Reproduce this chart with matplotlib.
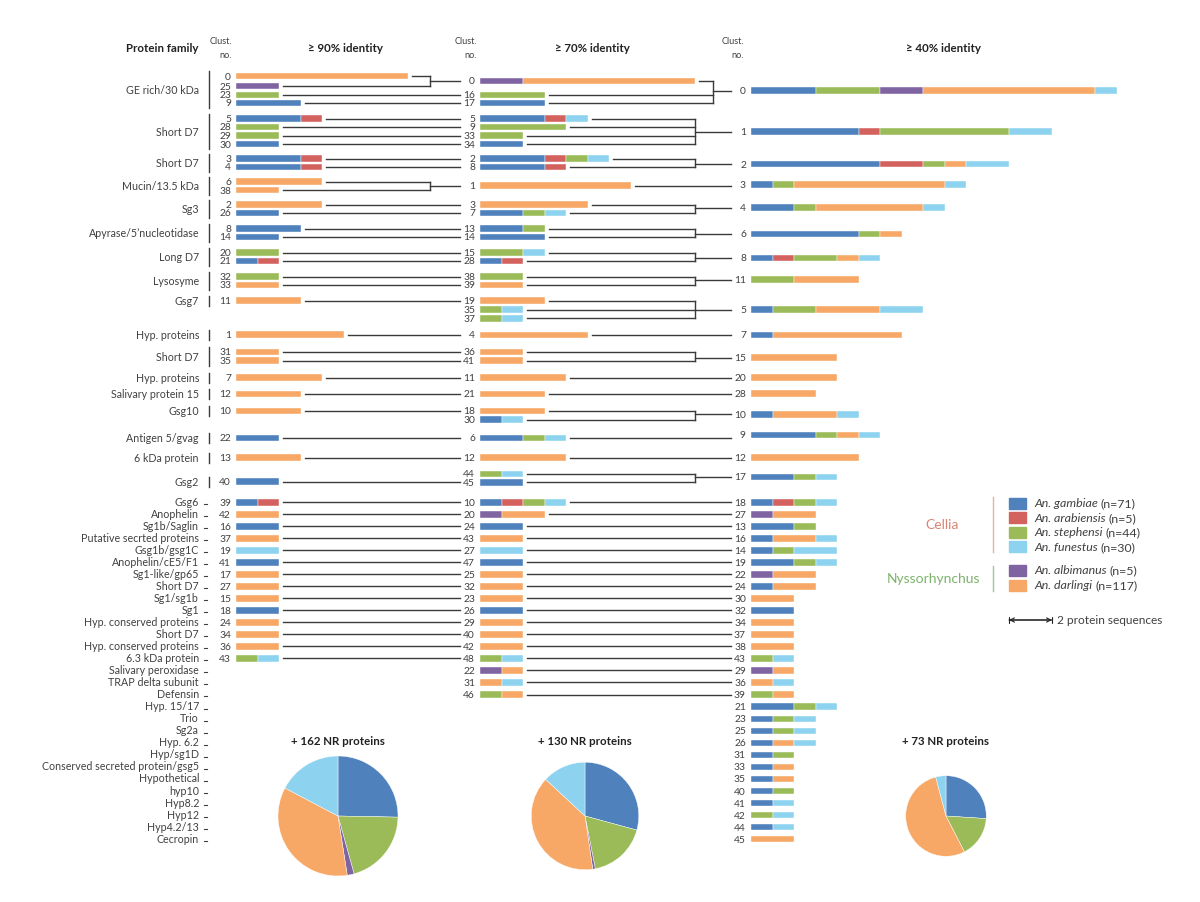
import numpy as np
import matplotlib
matplotlib.use("Agg")
import matplotlib.pyplot as plt
from matplotlib.patches import Rectangle

plt.rcParams['font.family'] = ['Lato', 'DejaVu Sans']

# species order inside every bar: gambiae, arabiensis, stephensi, albimanus, darlingi, funestus
species = ['An. gambiae', 'An. arabiensis', 'An. stephensi', 'An. albimanus', 'An. darlingi', 'An. funestus']
species_n = [71, 5, 44, 5, 117, 30]
colors = ['#4F81BD', '#D3625F', '#9BBB59', '#8064A2', '#F7A866', '#8DD3EF']
legend_order = [0, 1, 2, 5, 3, 4]

# >= 90% identity clusters
c90_ids = [0, 25, 23, 9, 5, 28, 29, 30, 3, 4, 6, 38, 2, 26, 8, 14, 20, 21, 32, 33, 11,
           1, 31, 35, 7, 12, 10, 22, 13, 40,
           39, 42, 16, 37, 19, 41, 17, 27, 15, 18, 24, 34, 36, 43]
c90_counts = [
    [0, 0, 0, 0, 8, 0], [0, 0, 0, 2, 0, 0], [0, 0, 2, 0, 0, 0], [3, 0, 0, 0, 0, 0],
    [3, 1, 0, 0, 0, 0], [0, 0, 2, 0, 0, 0], [0, 0, 2, 0, 0, 0], [2, 0, 0, 0, 0, 0],
    [3, 1, 0, 0, 0, 0], [3, 1, 0, 0, 0, 0], [0, 0, 0, 0, 4, 0], [0, 0, 0, 0, 2, 0],
    [0, 0, 0, 0, 4, 0], [2, 0, 0, 0, 0, 0], [3, 0, 0, 0, 0, 0], [2, 0, 0, 0, 0, 0],
    [0, 0, 2, 0, 0, 0], [1, 1, 0, 0, 0, 0], [0, 0, 2, 0, 0, 0], [0, 0, 0, 0, 2, 0],
    [0, 0, 0, 0, 3, 0], [0, 0, 0, 0, 5, 0], [0, 0, 0, 0, 2, 0], [0, 0, 0, 0, 2, 0],
    [0, 0, 0, 0, 4, 0], [0, 0, 0, 0, 3, 0], [0, 0, 0, 0, 3, 0], [2, 0, 0, 0, 0, 0],
    [0, 0, 0, 0, 3, 0], [2, 0, 0, 0, 0, 0],
    [1, 1, 0, 0, 0, 0], [0, 0, 0, 0, 2, 0], [2, 0, 0, 0, 0, 0], [0, 0, 0, 0, 2, 0],
    [0, 0, 0, 0, 0, 2], [2, 0, 0, 0, 0, 0], [0, 0, 0, 0, 2, 0], [0, 0, 0, 0, 2, 0],
    [0, 0, 0, 0, 2, 0], [2, 0, 0, 0, 0, 0], [0, 0, 0, 0, 2, 0], [0, 0, 0, 0, 2, 0],
    [0, 0, 0, 0, 2, 0], [0, 0, 1, 0, 0, 1]]

# >= 70% identity clusters
c70_ids = [0, 16, 17, 5, 9, 33, 34, 2, 8, 1, 3, 7, 13, 14, 15, 28, 38, 39, 19, 35, 37,
           4, 36, 41, 11, 21, 18, 30, 6, 12, 44, 45,
           10, 20, 24, 43, 27, 47, 25, 32, 23, 26, 29, 40, 42, 48, 22, 31, 46]
c70_counts = [
    [0, 0, 0, 2, 8, 0], [0, 0, 3, 0, 0, 0], [3, 0, 0, 0, 0, 0], [3, 1, 0, 0, 0, 1],
    [0, 0, 4, 0, 0, 0], [0, 0, 2, 0, 0, 0], [2, 0, 0, 0, 0, 0], [3, 1, 1, 0, 0, 1],
    [3, 1, 0, 0, 0, 0], [0, 0, 0, 0, 7, 0], [0, 0, 0, 0, 5, 0], [2, 0, 1, 0, 0, 1],
    [2, 0, 1, 0, 0, 0], [3, 0, 0, 0, 0, 0], [0, 0, 2, 0, 0, 1], [1, 1, 0, 0, 0, 0],
    [0, 0, 2, 0, 0, 0], [0, 0, 0, 0, 2, 0], [0, 0, 0, 0, 3, 0], [0, 0, 1, 0, 0, 1],
    [0, 0, 1, 0, 0, 1], [0, 0, 0, 0, 5, 0], [0, 0, 0, 0, 2, 0], [0, 0, 0, 0, 2, 0],
    [0, 0, 0, 0, 4, 0], [0, 0, 0, 0, 3, 0], [0, 0, 0, 0, 3, 0], [1, 0, 0, 0, 0, 1],
    [2, 0, 1, 0, 0, 1], [0, 0, 0, 0, 4, 0], [0, 0, 1, 0, 0, 1], [2, 0, 0, 0, 0, 0],
    [1, 1, 1, 0, 0, 1], [0, 0, 0, 1, 2, 0], [2, 0, 0, 0, 0, 0], [0, 0, 0, 0, 2, 0],
    [0, 0, 0, 0, 0, 2], [2, 0, 0, 0, 0, 0], [0, 0, 0, 0, 2, 0], [0, 0, 0, 0, 2, 0],
    [0, 0, 0, 0, 2, 0], [2, 0, 0, 0, 0, 0], [0, 0, 0, 0, 2, 0], [0, 0, 0, 0, 2, 0],
    [0, 0, 0, 0, 2, 0], [0, 0, 1, 0, 0, 1], [0, 0, 0, 1, 1, 0], [0, 0, 0, 0, 1, 1],
    [0, 0, 1, 0, 1, 0]]

# >= 40% identity clusters
c40_ids = [0, 1, 2, 3, 4, 6, 8, 11, 5, 7, 15, 20, 28, 10, 9, 12, 17,
           18, 27, 13, 16, 14, 19, 22, 24, 30, 32, 34, 37, 38, 43, 29, 36, 39,
           21, 23, 25, 26, 31, 33, 35, 40, 41, 42, 44, 45]
c40_counts = [
    [3, 0, 3, 2, 8, 1], [5, 1, 6, 0, 0, 2], [6, 2, 1, 0, 1, 2], [1, 0, 1, 0, 7, 1],
    [2, 0, 1, 0, 5, 1], [5, 0, 1, 0, 1, 0], [1, 1, 2, 0, 1, 1], [0, 0, 2, 0, 3, 0],
    [1, 0, 2, 0, 3, 2], [1, 0, 0, 0, 6, 0], [0, 0, 0, 0, 4, 0], [0, 0, 0, 0, 4, 0],
    [0, 0, 0, 0, 3, 0], [1, 0, 0, 0, 3, 1], [3, 0, 1, 0, 1, 1], [0, 0, 0, 0, 5, 0],
    [2, 0, 1, 0, 0, 1],
    [1, 1, 1, 0, 0, 1], [0, 0, 0, 1, 2, 0], [2, 0, 1, 0, 0, 0], [1, 0, 0, 0, 2, 1],
    [1, 0, 1, 0, 0, 2], [2, 0, 1, 0, 0, 1], [0, 0, 0, 1, 2, 0], [1, 0, 0, 0, 2, 0],
    [0, 0, 0, 0, 2, 0], [2, 0, 0, 0, 0, 0], [0, 0, 0, 0, 2, 0], [0, 0, 0, 0, 2, 0],
    [0, 0, 0, 0, 2, 0], [0, 0, 1, 0, 0, 1], [0, 0, 0, 1, 1, 0], [0, 0, 0, 0, 1, 1],
    [0, 0, 1, 0, 1, 0],
    [2, 0, 1, 0, 0, 1], [1, 0, 1, 0, 0, 1], [1, 0, 1, 0, 0, 1], [1, 0, 0, 0, 1, 1],
    [1, 0, 1, 0, 0, 0], [1, 0, 0, 0, 1, 0], [1, 0, 0, 0, 1, 0], [1, 0, 1, 0, 0, 0],
    [1, 0, 0, 0, 0, 1], [0, 0, 1, 0, 0, 1], [1, 0, 0, 0, 0, 1], [0, 0, 0, 0, 2, 0]]

# cluster merges between identity levels: (source clusters, target cluster)
links_90_70 = [([0, 25], 0), ([23], 16), ([9], 17), ([5], 5), ([28], 9), ([29], 33), ([30], 34),
               ([3], 2), ([4], 8), ([6, 38], 1), ([2], 3), ([26], 7), ([8], 13), ([14], 14),
               ([20], 15), ([21], 28), ([32], 38), ([33], 39), ([11], 19), ([1], 4), ([31], 36),
               ([35], 41), ([7], 11), ([12], 21), ([10], 18), ([22], 6), ([13], 12), ([40], 45),
               ([39], 10), ([42], 20), ([16], 24), ([37], 43), ([19], 27), ([41], 47), ([17], 25),
               ([27], 32), ([15], 23), ([18], 26), ([24], 29), ([34], 40), ([36], 42), ([43], 48)]
links_70_40 = [([0, 16, 17], 0), ([5, 9, 33, 34], 1), ([2, 8], 2), ([1], 3), ([3, 7], 4),
               ([13, 14], 6), ([15, 28], 8), ([38, 39], 11), ([19, 35, 37], 5), ([4], 7),
               ([36, 41], 15), ([11], 20), ([21], 28), ([18, 30], 10), ([6], 9), ([12], 12),
               ([44, 45], 17), ([10], 18), ([20], 27), ([24], 13), ([43], 16), ([27], 14),
               ([47], 19), ([25], 22), ([32], 24), ([23], 30), ([26], 32), ([29], 34), ([40], 37),
               ([42], 38), ([48], 43), ([22], 29), ([31], 36), ([46], 39)]

# protein families (upper block: groups of >=90% clusters)
families_top = ['GE rich/30 kDa', 'Short D7', 'Short D7', 'Mucin/13.5 kDa', 'Sg3',
                'Apyrase/5\u2019nucleotidase', 'Long D7', 'Lysosyme', 'Gsg7', 'Hyp. proteins',
                'Short D7', 'Hyp. proteins', 'Salivary protein 15', 'Gsg10', 'Antigen 5/gvag',
                '6 kDa protein', 'Gsg2']
families_top_members = [[0, 25, 23, 9], [5, 28, 29, 30], [3, 4], [6, 38], [2, 26], [8, 14],
                        [20, 21], [32, 33], [11], [1], [31, 35], [7], [12], [10], [22], [13], [40]]
families_low = ['Gsg6', 'Anophelin', 'Sg1b/Saglin', 'Putative secrted proteins', 'Gsg1b/gsg1C',
                'Anophelin/cE5/F1', 'Sg1-like/gp65', 'Short D7', 'Sg1/sg1b', 'Sg1',
                'Hyp. conserved proteins', 'Short D7', 'Hyp. conserved proteins', '6.3 kDa protein',
                'Salivary peroxidase', 'TRAP delta subunit', 'Defensin', 'Hyp. 15/17', 'Trio',
                'Sg2a', 'Hyp. 6.2', 'Hyp/sg1D', 'Conserved secreted protein/gsg5', 'Hypothetical',
                'hyp10', 'Hyp8.2', 'Hyp12', 'Hyp4.2/13', 'Cecropin']

# non-redundant proteins outside the clusters
pie_totals = [162, 130, 73]
pie_counts = [[41, 0, 33, 3, 57, 28], [38, 0, 23, 1, 51, 17], [19, 0, 12, 0, 39, 3]]

# ---------------- layout (pixels) ----------------
W, H = 1200, 903
unit = 21.5
bar_h = 6.5
lc = '#3a3a3a'
tc = '#404040'
low = list(503.3 + 12 * np.arange(17))
y90 = [77, 87, 96, 104, 119.5, 128, 136.5, 145, 159.5, 168, 182.5, 191, 205.5, 214, 229.5, 238,
       253.5, 262, 277.5, 286, 301.5, 335.5, 353, 361.5, 378.5, 395, 412, 439, 458.5, 482.5] + low[:14]
y70 = [82, 96, 104, 119.5, 128, 136.5, 145, 159.5, 168, 186.7, 205.5, 214, 229.5, 238, 253.5, 262,
       277.5, 286, 301.5, 310.5, 319.3, 336, 353, 361.5, 378.5, 395, 412, 420.7, 439, 458.5,
       475, 483.3] + low[:16] + [695.7]
y40 = [91.7, 132.7, 165, 185.3, 208.7, 235, 259, 280.7, 310.7, 336, 358.7, 378.3, 394.7, 415.3,
       436, 458.3, 478] + low + list(707.7 + 12.05 * np.arange(12))

cols = [
    dict(ids=c90_ids, counts=c90_counts, y=y90, x0=236, xl=231),
    dict(ids=c70_ids, counts=c70_counts, y=y70, x0=480, xl=475),
    dict(ids=c40_ids, counts=c40_counts, y=y40, x0=751, xl=746),
]

fig = plt.figure(figsize=(W / 100, H / 100), dpi=100)
ax = fig.add_axes([0, 0, 1, 1])
ax.set_xlim(0, W)
ax.set_ylim(H, 0)
ax.axis('off')

ypos = []
xend = []
for c in cols:
    yp, xe = {}, {}
    for cid, cnt, y in zip(c['ids'], c['counts'], c['y']):
        left = c['x0']
        for k, n in enumerate(cnt):
            if n:
                ax.barh(y, n * unit, left=left, height=bar_h, color=colors[k],
                        edgecolor='white', linewidth=0.3)
                left += n * unit
        ax.text(c['xl'], y, str(cid), ha='right', va='center', fontsize=7.4, color=tc)
        yp[cid] = y
        xe[cid] = left
    ypos.append(yp)
    xend.append(xe)


def draw_links(links, src, dst, bracket_x, stop_x):
    for sources, tgt in links:
        ty = ypos[dst][tgt]
        if len(sources) == 1:
            s = sources[0]
            ax.plot([xend[src][s] + 4, stop_x], [ypos[src][s]] * 2, color=lc, lw=1.0)
            continue
        bx = max(bracket_x, max(xend[src][s] for s in sources) + 18)
        ys = [ypos[src][s] for s in sources]
        for s in sources:
            ax.plot([xend[src][s] + 4, bx], [ypos[src][s]] * 2, color=lc, lw=1.0)
        ax.plot([bx, bx], [min(ys), max(ys)], color=lc, lw=1.0)
        ax.plot([bx, stop_x], [ty, ty], color=lc, lw=1.0)


draw_links(links_90_70, 0, 1, 430, 460)
draw_links(links_70_40, 1, 2, 695, 731)

# family labels
src_of = {}
for sources, tgt in links_90_70:
    for s in sources:
        src_of[s] = tgt
for name, members in zip(families_top, families_top_members):
    ys = [ypos[0][m] for m in members] + [ypos[1][src_of[m]] for m in members]
    y0, y1 = min(ys) - 5, max(ys) + 5
    ax.plot([209, 209], [y0, y1], color=lc, lw=1.0)
    ax.text(199, (y0 + y1) / 2, name, ha='right', va='center', fontsize=7.7, color=tc)
for name, y in zip(families_low, y40[17:]):
    ax.text(199, y - 1, name, ha='right', va='center', fontsize=7.7, color=tc)
    ax.plot([204, 207], [y + 2, y + 2], color=tc, lw=0.8)

# headers
ax.text(198, 48, 'Protein family', ha='right', va='center', fontsize=8.3, fontweight='bold', color='#222222')
for xr, xc, lab in [(232, 346, '\u2265 90% identity'), (477, 592, '\u2265 70% identity'),
                    (744, 944, '\u2265 40% identity')]:
    ax.text(xr, 42, 'Clust.', ha='right', va='center', fontsize=6.6, color=tc)
    ax.text(xr, 55, 'no.', ha='right', va='center', fontsize=6.6, color=tc)
    ax.text(xc, 48, lab, ha='center', va='center', fontsize=8.3, fontweight='bold', color='#222222')

# legend
fig.canvas.draw()
rend = fig.canvas.get_renderer()
leg_y = [504, 518.5, 533, 547.5, 571, 586]
for y, k in zip(leg_y, legend_order):
    ax.add_patch(Rectangle((1009, y - 5.5), 17, 11, color=colors[k]))
    t = ax.text(1034, y, species[k], ha='left', va='center', fontsize=8.9, style='italic', color=tc)
    bb = t.get_window_extent(renderer=rend)
    ax.text(bb.x1 + 3, y, '(n=%d)' % species_n[k], ha='left', va='center', fontsize=8.9, color=tc)
ax.text(942, 525, 'Cellia', ha='center', va='center', fontsize=10, color='#D98472')
ax.plot([993, 993], [498, 553], color='#E3B3A8', lw=1.0)
ax.text(933, 579, 'Nyssorhynchus', ha='center', va='center', fontsize=10, color='#7DB36B')
ax.plot([993, 993], [567, 592], color='#9CCB8E', lw=1.0)
ax.annotate('', xy=(1009 + 2 * unit, 621), xytext=(1009, 621),
            arrowprops=dict(arrowstyle='|-|, widthA=0.2, widthB=0.2', lw=0.8, color='#222222',
                            shrinkA=0, shrinkB=0))
ax.annotate('', xy=(1009 + 2 * unit, 621), xytext=(1009, 621),
            arrowprops=dict(arrowstyle='<->, head_length=0.3, head_width=0.15', lw=0.8,
                            color='#222222', shrinkA=0, shrinkB=0))
ax.text(1057, 621, '2 protein sequences', ha='left', va='center', fontsize=8.6, color=tc)

# pies of non-redundant proteins
pie_cx = [338, 585, 946]
pie_cy = 817
r0 = 60
for cx, tot, cnt in zip(pie_cx, pie_totals, pie_counts):
    r = r0 * np.sqrt(tot / pie_totals[0])
    pax = fig.add_axes([(cx - r) / W, (H - pie_cy - r) / H, 2 * r / W, 2 * r / H])
    vals = [v for v in cnt if v > 0]
    cl = [colors[k] for k, v in enumerate(cnt) if v > 0]
    pax.pie(vals, colors=cl, startangle=90, counterclock=False, radius=1,
            wedgeprops=dict(edgecolor='white', linewidth=0.3))
    pax.set_xlim(-1, 1)
    pax.set_ylim(-1, 1)
    pax.axis('off')
    ax.text(cx, 742, '+ %d NR proteins' % tot, ha='center', va='center', fontsize=8.3,
            fontweight='bold', color='#222222')

fig.savefig('out.png', dpi=100)
